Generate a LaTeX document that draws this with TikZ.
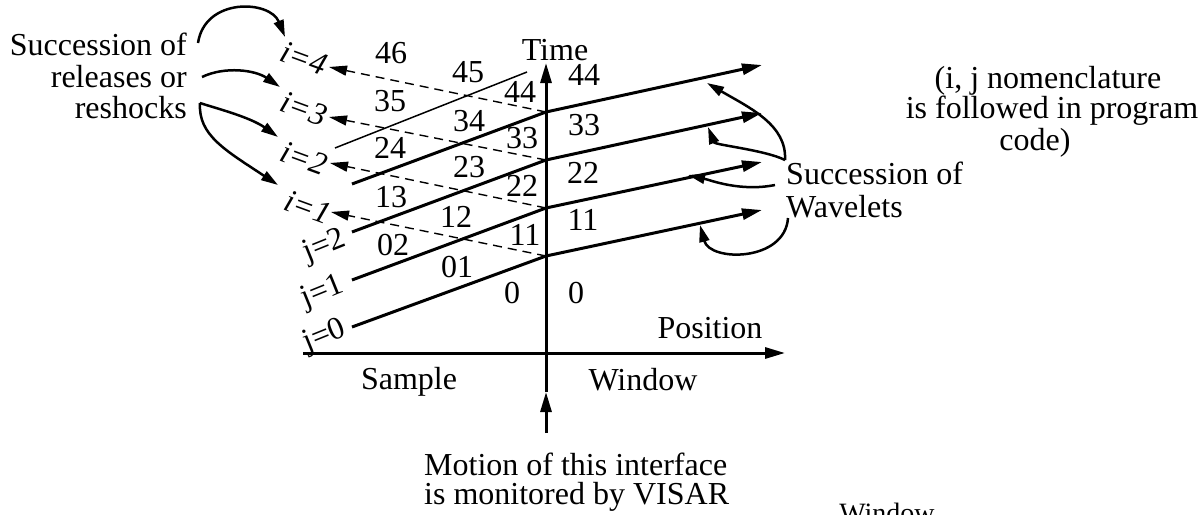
\documentclass[tikz,border=0pt]{standalone}
\usepackage{fontspec}
\setmainfont{Liberation Serif}
\usetikzlibrary{arrows.meta}
\begin{document}
\begin{tikzpicture}[x=1pt,y=-1pt,
  lbl/.style={inner sep=0pt, anchor=base, font=\fontsize{32}{38}\selectfont},
  ilbl/.style={inner sep=0pt, anchor=center, font=\fontsize{32}{38}\selectfont\itshape, rotate=-20},
  jlbl/.style={inner sep=0pt, anchor=center, font=\fontsize{32}{38}\selectfont, rotate=22},
  axisline/.style={line width=3pt},
  wave/.style={line width=3pt},
  bigtip/.style={-{Triangle[length=20pt,width=11pt]}},
  relline/.style={line width=1.4pt, dash pattern=on 9pt off 6pt, -{Triangle[length=18pt,width=10pt]}},
  thinline/.style={line width=1.5pt},
  curv/.style={line width=2.5pt, -{Triangle[length=17pt,width=10pt]}}]
\useasboundingbox (0,0) rectangle (1201,514);
\clip (0,0) rectangle (1201,514);

% key points
\coordinate (A1) at (546,256); \coordinate (A2) at (546,208);
\coordinate (A3) at (546,160); \coordinate (A4) at (546,112);
\coordinate (L1) at (352,327); \coordinate (L2) at (352,280);
\coordinate (L3) at (352,232); \coordinate (L4) at (352,184);
\coordinate (R1) at (762,210); \coordinate (R2) at (762,162);
\coordinate (R3) at (762,113); \coordinate (R4) at (762,65);
\coordinate (I1) at (331,212); \coordinate (I2) at (330,163);
\coordinate (I3) at (329,117); \coordinate (I4) at (329,67);
\coordinate (T0) at (335,148); \coordinate (T1) at (527,72);
\coordinate (Yb) at (546,392); \coordinate (Yt) at (546,63);
\coordinate (Xl) at (303,353); \coordinate (Xr) at (785,353);
\coordinate (Mb) at (546,433);

% axes
\draw[axisline, bigtip] (Yb) -- (Yt);
\draw[axisline, bigtip] (Xl) -- (Xr);
\draw[axisline, bigtip] (Mb) -- (Yb);

% wavelets
\draw[wave, bigtip] (L1) -- (A1) -- (R1);
\draw[wave, bigtip] (L2) -- (A2) -- (R2);
\draw[wave, bigtip] (L3) -- (A3) -- (R3);
\draw[wave, bigtip] (L4) -- (A4) -- (R4);
\draw[thinline] (T0) -- (T1);

% releases / reshocks
\draw[relline] (A1) -- (I1);
\draw[relline] (A2) -- (I2);
\draw[relline] (A3) -- (I3);
\draw[relline] (A4) -- (I4);

% i and j labels
\node[ilbl] (i4) at (304,58) {i=4};
\node[ilbl] (i3) at (304,109) {i=3};
\node[ilbl] (i2) at (304,158) {i=2};
\node[ilbl] (i1) at (308,207) {i=1};
\node[jlbl] (j2) at (325,247) {j=2};
\node[jlbl] (j1) at (323,293) {j=1};
\node[jlbl] (j0) at (325,337) {j=0};

% region numbers
\node[lbl] (n46) at (391,63) {46};
\node[lbl] (n45) at (468,82) {45};
\node[lbl] (n44l) at (520,102) {44};
\node[lbl] (n44r) at (584,85) {44};
\node[lbl] (n35) at (390,111) {35};
\node[lbl] (n34) at (469,131) {34};
\node[lbl] (n33l) at (522,148) {33};
\node[lbl] (n33r) at (584,135) {33};
\node[lbl] (n24) at (390,158) {24};
\node[lbl] (n23) at (469,177) {23};
\node[lbl] (n22l) at (522,196) {22};
\node[lbl] (n22r) at (583,183) {22};
\node[lbl] (n13) at (391,207) {13};
\node[lbl] (n12) at (456,227) {12};
\node[lbl] (n11l) at (525,245) {11};
\node[lbl] (n11r) at (583,230) {11};
\node[lbl] (n02) at (393,255) {02};
\node[lbl] (n01) at (457,277) {01};
\node[lbl] (n0l) at (512,303) {0};
\node[lbl] (n0r) at (576,303) {0};

% axis labels
\node[lbl] (time) at (555,60) {Time};
\node[lbl] (pos) at (710,338) {Position};
\node[lbl] (samp) at (409,389) {Sample};
\node[lbl] (win) at (643,390) {Window};
\node[lbl, anchor=base west] (mot1) at (424,475) {Motion of this interface};
\node[lbl, anchor=base west] (mot2) at (424,504) {is monitored by VISAR};
\node[inner sep=0pt, anchor=base, font=\fontsize{28}{32}\selectfont] (win2) at (887,522) {Window};

% left text and curved arrows
\node[lbl, anchor=base east] (s1) at (187,55) {Succession of};
\node[lbl, anchor=base east] (s2) at (187,87) {releases or};
\node[lbl, anchor=base east] (s3) at (187,118) {reshocks};
\coordinate (c1) at (198,43); \coordinate (c1e) at (285,37);
\coordinate (c2) at (202,77); \coordinate (c2e) at (280,87);
\coordinate (c3) at (200,103); \coordinate (c3e) at (278,137);
\coordinate (c4e) at (278,185);
\draw[curv] (c1) .. controls (205,-3) and (270,0) .. (c1e);
\draw[curv] (c2) .. controls (225,66) and (255,70) .. (c2e);
\draw[curv] (c3) .. controls (215,108) and (250,117) .. (c3e);
\draw[curv] (c3) .. controls (198,135) and (225,150) .. (c4e);

% right text and curved arrows
\node[lbl, anchor=base west] (w1) at (786,184) {Succession of};
\node[lbl, anchor=base west] (w2) at (786,217) {Wavelets};
\coordinate (d1) at (785,160); \coordinate (d1e) at (707,83);
\coordinate (d2e) at (708,127);
\coordinate (d3) at (775,185); \coordinate (d3e) at (688,175);
\coordinate (d4) at (788,218); \coordinate (d4e) at (700,225);
\draw[curv] (d1) .. controls (787,125) and (750,108) .. (d1e);
\draw[curv] (d1) .. controls (765,150) and (715,145) .. (d2e);
\draw[curv] (d3) .. controls (740,192) and (710,180) .. (d3e);
\draw[curv] (d4) .. controls (785,262) and (710,262) .. (d4e);

% nomenclature note
\node[lbl] (nm1) at (1048,88) {(i, j nomenclature};
\node[lbl] (nm2) at (1052,118) {is followed in program};
\node[lbl] (nm3) at (1035,150) {code)};
\end{tikzpicture}
\end{document}
